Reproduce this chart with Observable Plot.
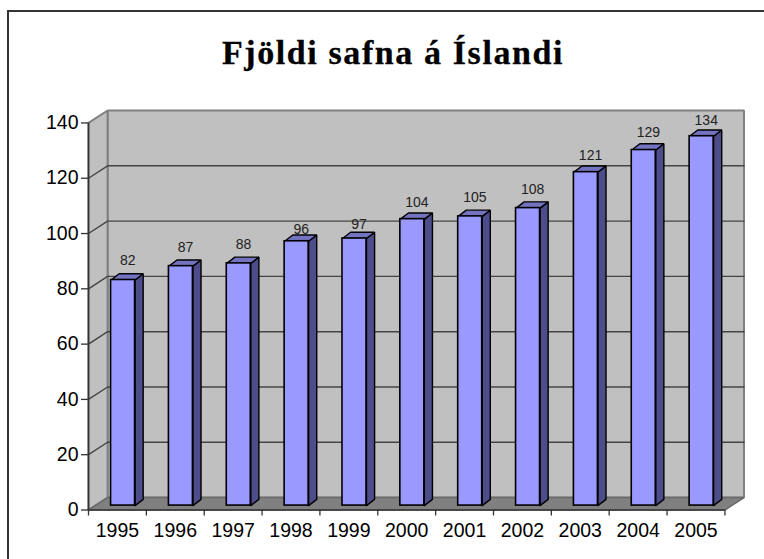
<!DOCTYPE html>
<html lang="is">
<head>
<meta charset="utf-8">
<title>Fjöldi safna á Íslandi</title>
<script src="https://cdn.jsdelivr.net/npm/d3@7"></script>
<script src="https://cdn.jsdelivr.net/npm/@observablehq/plot@0.6"></script>
<style>
  html, body { margin: 0; padding: 0; background: #fff; overflow: hidden; }
  #frame { position: absolute; left: 7px; top: 10px; right: 0; bottom: 0;
           border-top: 2px solid #333; border-left: 2px solid #333; }
  #chart-title { position: absolute; left: 0; top: 31px; width: 764px; margin: 0; padding-left: 22px; box-sizing: border-box;
           text-align: center; font: bold 34px/44px "Liberation Serif", serif; letter-spacing: 1.6px; -webkit-text-stroke: 0.3px #000; color: #000; }
  #chart { position: absolute; left: 0; top: 90px; }
  #chart svg { display: block; background: transparent; }
</style>
</head>
<body>
<div id="frame"></div>
<h1 id="chart-title">Fjöldi safna á Íslandi</h1>
<div id="chart"></div>
<script>
const years = [1995, 1996, 1997, 1998, 1999, 2000, 2001, 2002, 2003, 2004, 2005];
const museums = [82, 87, 88, 96, 97, 104, 105, 108, 121, 129, 134];
const valueTicks = [0, 20, 40, 60, 80, 100, 120, 140];

// Pseudo-3D depth of the box and the bars, in data units of the two scales
const depthX = 0.33, depthY = 4.5;
const barDepthX = 0.14, barDepthY = 2.25;
const barOffset = 0.39, barWidth = 0.415, baseLift = 1.6, topLift = 1.2;
const n = years.length, yMax = 140;

const bars = years.map((year, i) => ({
  year, value: museums[i],
  x1: i + barOffset, x2: i + barOffset + barWidth,
  y1: baseLift, y2: museums[i] + topLift
}));
const side = bars.flatMap(b => [
  [b.x2, b.y1], [b.x2 + barDepthX, b.y1 + barDepthY],
  [b.x2 + barDepthX, b.y2 + barDepthY], [b.x2, b.y2], [b.x2, b.y1]
].map(([x, y]) => ({id: b.year, x, y})));
const top3d = bars.flatMap(b => [
  [b.x1, b.y2], [b.x1 + barDepthX, b.y2 + barDepthY],
  [b.x2 + barDepthX, b.y2 + barDepthY], [b.x2, b.y2], [b.x1, b.y2]
].map(([x, y]) => ({id: b.year, x, y})));

const poly = (pts, fill, stroke, strokeWidth) =>
  Plot.line(pts.map(([x, y]) => ({x, y})), {x: "x", y: "y", fill, stroke, strokeWidth, strokeLinejoin: "miter"});

const gridTicks = valueTicks.filter(v => v > 0 && v < yMax);
const gridPaths = gridTicks.flatMap(v => [
  {id: v, x: 0, y: v}, {id: v, x: depthX, y: v + depthY}, {id: v, x: n + depthX, y: v + depthY}
]);

// Each value label's own gap above its bar, as placed in the original
const labelGap = new Map([[82, 5.4], [87, 5.3], [88, 5.2], [96, 2.6], [97, 3.6], [104, 4.4],
  [105, 5.2], [108, 5.2], [121, 4.5], [129, 4.6], [134, 4.2]]);

const plot = Plot.plot({
  width: 764, height: 469,
  marginLeft: 88, marginRight: 20.5, marginTop: 20, marginBottom: 49.5,
  x: {domain: [0, n + depthX], axis: null},
  y: {domain: [0, yMax + depthY], axis: null},
  style: {fontFamily: "'Liberation Sans', Arial, sans-serif", background: "transparent", color: "#000", overflow: "visible"},
  marks: [
    // back wall
    poly([[depthX, depthY], [n + depthX, depthY], [n + depthX, yMax + depthY], [depthX, yMax + depthY], [depthX, depthY]], "#c0c0c0", "#808080", 2),
    // left wall
    poly([[0, 0], [depthX, depthY], [depthX, yMax + depthY], [0, yMax], [0, 0]], "#c0c0c0", "#808080", 2),
    // floor
    poly([[0, 0], [depthX, depthY], [n + depthX, depthY], [n, 0], [0, 0]], "#808080", "#6a6a6a", 1.5),
    // grid lines across the left and back walls
    Plot.line(gridPaths, {x: "x", y: "y", z: "id", stroke: "#444", strokeWidth: 1.4}),
    // bars: side, top, front
    Plot.line(side, {x: "x", y: "y", z: "id", fill: "#4d4d8c", stroke: "#000", strokeWidth: 1.4, strokeLinejoin: "miter"}),
    Plot.line(top3d, {x: "x", y: "y", z: "id", fill: "#7373bf", stroke: "#000", strokeWidth: 1.4, strokeLinejoin: "miter"}),
    Plot.rect(bars, {x1: "x1", x2: "x2", y1: "y1", y2: "y2", fill: "#9999ff", stroke: "#000", strokeWidth: 1.6}),
    // value labels
    Plot.text(bars, {
      x: d => d.x1 + barWidth / 2 + barDepthX / 2 + 0.01,
      y: d => d.y2 + labelGap.get(d.value),
      text: d => String(d.value), fontSize: 14, fill: "#222", lineAnchor: "bottom"
    }),
    // axes
    Plot.ruleX([0], {y1: 0, y2: yMax, stroke: "#333", strokeWidth: 1.6}),
    Plot.ruleY([0], {x1: 0, x2: n, stroke: "#333", strokeWidth: 1.6}),
    Plot.axisY({ticks: valueTicks, tickSize: 7, tickPadding: 3, fontSize: 19.5, stroke: "#333", strokeWidth: 1.3, label: null, marginLeft: 88}),
    Plot.axisX({ticks: d3.range(0, n + 1), tickSize: 6, tickFormat: () => "", stroke: "#333", strokeWidth: 1.3, label: null}),
    Plot.axisX({ticks: years.map((_, i) => i + 0.5), tickSize: 0, tickPadding: 13,
      tickFormat: v => String(years[v - 0.5]), fontSize: 19.5, label: null})
  ]
});
document.getElementById("chart").append(plot);
</script>
</body>
</html>
